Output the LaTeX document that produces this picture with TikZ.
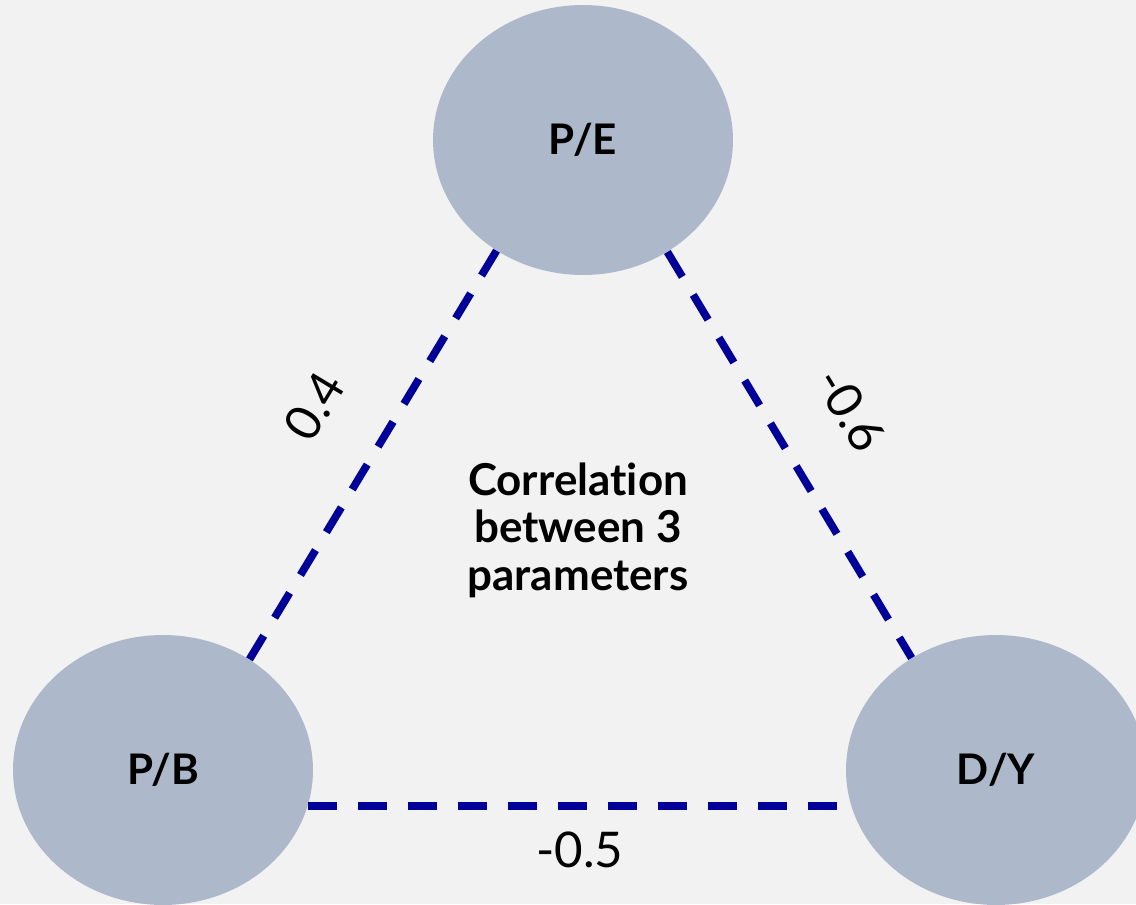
\documentclass[tikz,border=0pt]{standalone}
\usepackage{fontspec}
\setmainfont{Lato}[Ligatures=NoCommon]
\usepackage{xcolor}
\usetikzlibrary{shapes.geometric,positioning}
\definecolor{bgGray}{HTML}{F2F2F2}
\definecolor{nodeBlue}{HTML}{ADB9CA}
\definecolor{linkBlue}{HTML}{000099}

\begin{document}
\begin{tikzpicture}[x=0.02cm, y=-0.02cm,
    param/.style={ellipse, fill=nodeBlue, minimum width=6cm, minimum height=5.4cm, inner sep=0pt, font=\fontsize{24}{28}\selectfont\bfseries},
    link/.style={draw=linkBlue, line width=4.4pt, dash pattern=on 0.58cm off 0.42cm},
    coef/.style={font=\fontsize{28}{32}\selectfont}]
    \fill [bgGray] (0,0) rectangle (1136,904);
    \useasboundingbox (0,0) rectangle (1136,904);

    \node [param] (pe) at (583,140) {P/E};
    \node [param] (pb) at (163,770) {P/B};
    \node [param] (dy) at (996,770) {D/Y};

    \node [align=center, font=\fontsize{25}{27}\selectfont\bfseries] (title) at (578,530) {Correlation\\between 3\\parameters};

    \draw [link] (pe.232) -- (pb.52);
    \draw [link] (pe.307) -- (dy.127);
    \draw [link] (pb.346) -- (dy.194);

    \node [coef, rotate=59] (c1) at (314,406) {0.4};
    \node [coef, rotate=-59] (c2) at (851,410) {-0.6};
    \node [coef] (c3) at (580,850) {-0.5};
\end{tikzpicture}
\end{document}
